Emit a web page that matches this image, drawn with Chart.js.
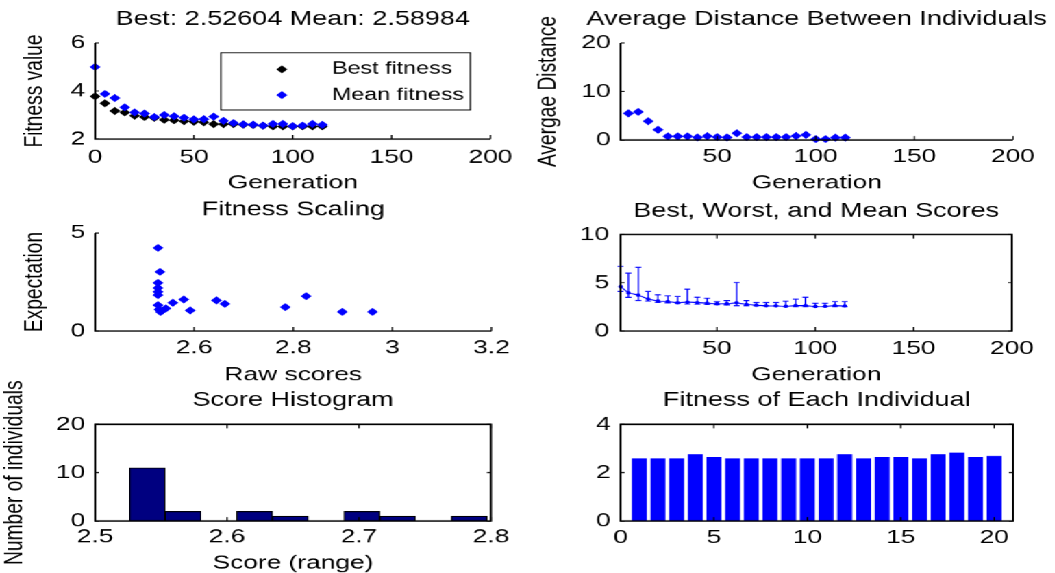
<!DOCTYPE html>
<html>
<head>
<meta charset="utf-8">
<title>Genetic algorithm plots</title>
<script src="https://cdn.jsdelivr.net/npm/chart.js@4.4.1/dist/chart.umd.min.js"></script>
<style>
  html, body { margin:0; padding:0; background:#fff; width:1055px; height:573px; overflow:hidden; }
  #stage { position:absolute; left:0; top:0; width:770px; height:573px; transform:scaleX(1.37); transform-origin:0 0; }
  #stage canvas { position:absolute; left:0; top:0; width:770px; height:573px; }
</style>
</head>
<body>
<div id="stage">
  <canvas id="cFitness" width="770" height="573"></canvas>
  <canvas id="cDistance" width="770" height="573"></canvas>
  <canvas id="cScaling" width="770" height="573"></canvas>
  <canvas id="cRange" width="770" height="573"></canvas>
  <canvas id="cHist" width="770" height="573"></canvas>
  <canvas id="cIndiv" width="770" height="573"></canvas>
</div>
<script>
// ---------------- data ----------------
const generations = [0,5,10,15,20,25,30,35,40,45,50,55,60,65,70,75,80,85,90,95,100,105,110,115];
const bestFitness = [3.78,3.49,3.17,3.11,2.97,2.92,2.88,2.80,2.78,2.74,2.72,2.70,2.62,2.62,2.62,2.60,2.58,2.55,2.526,2.526,2.526,2.526,2.526,2.526];
const meanFitness = [5.00,3.88,3.71,3.32,3.11,3.06,2.92,3.00,2.95,2.89,2.82,2.83,2.93,2.76,2.67,2.61,2.60,2.56,2.63,2.63,2.54,2.56,2.63,2.59];

const distanceGenerations = [5,10,15,20,25,30,35,40,45,50,55,60,65,70,75,80,85,90,95,100,105,110,115];
const avgDistance = [5.5,5.8,3.9,2.1,0.75,0.75,0.75,0.55,0.8,0.6,0.55,1.4,0.6,0.6,0.6,0.6,0.6,0.85,1.05,0.2,0.2,0.5,0.5];

const rawScores   = [2.527,2.531,2.527,2.527,2.527,2.527,2.527,2.529,2.536,2.543,2.532,2.557,2.579,2.592,2.645,2.662,2.784,2.826,2.899,2.960];
const expectation = [4.24,3.02,2.46,2.20,2.00,1.83,1.32,1.10,1.05,1.15,0.98,1.44,1.61,1.05,1.56,1.39,1.22,1.78,0.98,0.98];

const rangeGenerations = [1,5,10,15,20,25,30,35,40,45,50,55,60,65,70,75,80,85,90,95,100,105,110,115];
const rangeBest  = [4.10,3.49,3.17,3.11,2.97,2.92,2.88,2.80,2.78,2.74,2.72,2.70,2.62,2.62,2.62,2.60,2.58,2.55,2.526,2.526,2.526,2.526,2.526,2.526];
const rangeMean  = [4.60,3.95,3.71,3.32,3.11,3.06,2.92,3.00,2.95,2.89,2.82,2.83,2.93,2.76,2.67,2.61,2.60,2.56,2.63,2.63,2.54,2.56,2.63,2.59];
const rangeWorst = [6.70,6.00,6.60,4.10,3.75,3.65,3.57,4.34,3.50,3.40,3.05,3.16,5.03,3.16,2.95,2.95,2.95,3.10,3.30,3.50,2.88,2.88,3.05,3.05];

const histBinCenters = [2.5396,2.5667,2.5938,2.6209,2.6480,2.6751,2.7022,2.7293,2.7564,2.7835];
const histCounts     = [11,2,0,2,1,0,2,1,0,1];

const individuals = [1,2,3,4,5,6,7,8,9,10,11,12,13,14,15,16,17,18,19,20];
const individualFitness = [2.59,2.59,2.59,2.76,2.65,2.59,2.59,2.59,2.59,2.59,2.59,2.76,2.59,2.65,2.65,2.59,2.76,2.83,2.65,2.69];

// tick labels
const genTicks      = [0,50,100,150,200];
const genTicksNoZero= [50,100,150,200];
const fitnessTicks  = [2,4,6];
const distanceTicks = [0,10,20];
const scalingXTicks = [2.6,2.8,3,3.2];
const scalingYTicks = [0,5];
const rangeYTicks   = [0,5,10];
const histXTicks    = [2.5,2.6,2.7,2.8];
const histYTicks    = [0,10,20];
const indivXTicks   = [0,5,10,15,20];
const indivYTicks   = [0,2,4];

// ---------------- layout helpers ----------------
const S = 1.37, W = 770, H = 573;
const FAM = "'Liberation Sans', Arial, Helvetica, sans-serif";
const FS = 19.2, FST = 19.7, LHF = 1.2;
const lh = FS * LHF, lhT = FST * LHF;
const BLUE = '#0000ff';
const fmt = v => String(Math.round(v * 10000) / 10000);

const matlabAxes = {
  id: 'matlabAxes',
  afterDatasetsDraw(chart, args, o) {
    const {ctx, chartArea: a} = chart;
    const xs = chart.scales.x, ys = chart.scales.y;
    ctx.save();
    ctx.strokeStyle = '#000';
    ctx.lineWidth = o.lineWidth;
    ctx.beginPath();
    if (o.box) {
      ctx.rect(a.left, a.top, a.right - a.left, a.bottom - a.top);
    } else {
      ctx.moveTo(a.left, a.top);
      ctx.lineTo(a.left, a.bottom);
      ctx.lineTo(a.right, a.bottom);
    }
    ctx.stroke();
    ctx.lineWidth = 1;
    ctx.beginPath();
    xs.ticks.forEach(t => {
      const p = xs.getPixelForValue(t.value);
      ctx.moveTo(p, a.bottom); ctx.lineTo(p, a.bottom - o.len);
      if (o.box) { ctx.moveTo(p, a.top); ctx.lineTo(p, a.top + o.len); }
    });
    ys.ticks.forEach(t => {
      const p = ys.getPixelForValue(t.value);
      ctx.moveTo(a.left, p); ctx.lineTo(a.left + o.len / S, p);
      if (o.box) { ctx.moveTo(a.right, p); ctx.lineTo(a.right - o.len / S, p); }
    });
    ctx.stroke();
    ctx.restore();
  }
};

function diamond(ctx, x, y, r) {
  ctx.beginPath();
  ctx.moveTo(x - r, y); ctx.lineTo(x, y - r); ctx.lineTo(x + r, y); ctx.lineTo(x, y + r);
  ctx.closePath();
  ctx.fill(); ctx.stroke();
}

const boxLegend = {
  id: 'boxLegend',
  afterDraw(chart, args, o) {
    if (!o || !o.display) return;
    const {ctx, chartArea: a} = chart;
    const x0 = a.right - o.right - o.width, y0 = a.top + o.top;
    ctx.save();
    ctx.fillStyle = '#fff';
    ctx.fillRect(x0, y0, o.width, o.height);
    ctx.strokeStyle = '#000'; ctx.lineWidth = 1;
    ctx.strokeRect(x0, y0, o.width, o.height);
    ctx.font = o.fontSize + 'px ' + FAM;
    ctx.textBaseline = 'middle'; ctx.textAlign = 'left';
    chart.data.datasets.forEach((ds, i) => {
      const cy = y0 + o.rows[i];
      ctx.fillStyle = ds.pointBackgroundColor; ctx.strokeStyle = ds.pointBorderColor; ctx.lineWidth = 1;
      diamond(ctx, x0 + o.markerX, cy, ds.pointRadius);
      ctx.fillStyle = '#000';
      ctx.fillText(ds.label, x0 + o.textX, cy);
    });
    ctx.restore();
  }
};

function makeOptions(g) {
  const aL = g.area.l / S, aR = g.area.r / S;
  const side = Math.min(aL, W - aR);
  const pl = aL - side, pr = W - aR - side;
  const Hx = H - g.area.b;
  const tickFont = {family: FAM, size: FS, lineHeight: LHF, weight: 'normal'};
  const titleFont = {family: FAM, size: FST, lineHeight: LHF, weight: 'normal'};
  return {
    responsive: false, maintainAspectRatio: false, animation: false, devicePixelRatio: S,
    events: [],
    layout: {autoPadding: false, padding: {left: pl, right: pr, top: 0, bottom: 0}},
    scales: {
      x: {
        type: 'linear', position: 'bottom', min: g.xMin, max: g.xMax, offset: false,
        afterBuildTicks: s => { s.ticks = g.xTicks.map(v => ({value: v})); },
        afterFit: s => { s.height = Hx; },
        grid: {display: false, drawTicks: false}, border: {display: false},
        ticks: {autoSkip: false, maxRotation: 0, minRotation: 0, color: '#000', font: tickFont,
                padding: g.xTickY - g.area.b - lh / 2, callback: v => fmt(v)},
        title: g.xLabel ? {display: true, text: g.xLabel, color: '#000', font: tickFont,
                padding: {top: 0, bottom: H - g.xLabelY - lh / 2}} : {display: false}
      },
      y: {
        type: 'linear', position: 'left', min: g.yMin, max: g.yMax,
        afterBuildTicks: s => { s.ticks = g.yTicks.map(v => ({value: v})); },
        afterFit: s => { s.width = side; },
        grid: {display: false, drawTicks: false}, border: {display: false},
        ticks: {autoSkip: false, color: '#000', font: tickFont,
                padding: (g.area.l - g.yTickRight) / S, callback: v => fmt(v)},
        title: g.yLabel ? {display: true, text: g.yLabel, color: '#000', font: tickFont,
                padding: {top: g.yLabelX / S - pl - lh / 2, bottom: 0}} : {display: false}
      },
      yPad: {
        type: 'linear', position: 'right', display: true,
        afterFit: s => { s.width = side; },
        grid: {display: false, drawTicks: false}, border: {display: false},
        ticks: {display: false}, title: {display: false}
      }
    },
    plugins: {
      title: {display: true, text: g.title, color: '#000', font: titleFont,
              padding: {top: g.titleY - lhT / 2, bottom: g.area.t - g.titleY - lhT / 2}},
      legend: {display: false}, tooltip: {enabled: false},
      matlabAxes: {box: !!g.box, lineWidth: 1.5, len: 4},
      boxLegend: g.legend || {display: false}
    }
  };
}

const diamondPts = (color) => ({
  showLine: false, pointStyle: 'rectRot', pointRadius: 3.3,
  pointBackgroundColor: color, pointBorderColor: color, pointBorderWidth: 1,
  backgroundColor: color, borderColor: color, clip: false, xAxisID: 'x', yAxisID: 'y'
});

// ---------------- 1. Best / mean fitness ----------------
new Chart(document.getElementById('cFitness'), {
  type: 'scatter',
  data: { datasets: [
    Object.assign({label: 'Best fitness', order: 2,
      data: generations.map((g, i) => ({x: g, y: bestFitness[i]}))}, diamondPts('#000000')),
    Object.assign({label: 'Mean fitness', order: 1,
      data: generations.map((g, i) => ({x: g, y: meanFitness[i]}))}, diamondPts(BLUE))
  ]},
  options: makeOptions({
    area: {l: 95, r: 490, t: 43, b: 139},
    title: 'Best: 2.52604 Mean: 2.58984', titleY: 19.7,
    xMin: 0, xMax: 200, xTicks: genTicks, xTickY: 157.5, xLabel: 'Generation', xLabelY: 183.3,
    yMin: 2, yMax: 6, yTicks: fitnessTicks, yTickRight: 85, yLabel: 'Fitness value', yLabelX: 35,
    legend: {display: true, right: 14.6, top: 9.7, width: 182, height: 57.3,
             markerX: 44.5, textX: 81, rows: [16.6, 42.3], fontSize: 17}
  }),
  plugins: [matlabAxes, boxLegend]
});

// ---------------- 2. Average distance ----------------
new Chart(document.getElementById('cDistance'), {
  type: 'scatter',
  data: { datasets: [
    Object.assign({label: 'Average distance',
      data: distanceGenerations.map((g, i) => ({x: g, y: avgDistance[i]}))}, diamondPts(BLUE))
  ]},
  options: makeOptions({
    area: {l: 620, r: 1012, t: 43, b: 140},
    title: 'Average Distance Between Individuals', titleY: 19.7,
    xMin: 1, xMax: 200, xTicks: genTicksNoZero, xTickY: 157, xLabel: 'Generation', xLabelY: 183.3,
    yMin: 0, yMax: 20, yTicks: distanceTicks, yTickRight: 610, yLabel: 'Avergae Distance', yLabelX: 547.5
  }),
  plugins: [matlabAxes]
});

// ---------------- 3. Fitness scaling ----------------
new Chart(document.getElementById('cScaling'), {
  type: 'scatter',
  data: { datasets: [
    Object.assign({label: 'Expectation',
      data: rawScores.map((s, i) => ({x: s, y: expectation[i]}))}, diamondPts(BLUE))
  ]},
  options: makeOptions({
    area: {l: 95, r: 491, t: 233, b: 331},
    title: 'Fitness Scaling', titleY: 209.8,
    xMin: 2.4, xMax: 3.2, xTicks: scalingXTicks, xTickY: 348.3, xLabel: 'Raw scores', xLabelY: 375,
    yMin: 0, yMax: 5, yTicks: scalingYTicks, yTickRight: 85, yLabel: 'Expectation', yLabelX: 35
  }),
  plugins: [matlabAxes]
});

// ---------------- 4. Best, worst, mean scores ----------------
const rangeSegments = [];
rangeGenerations.forEach((g, i) => {
  rangeSegments.push({x: g, y: rangeBest[i]}, {x: g, y: rangeWorst[i]}, {x: g, y: null});
});
new Chart(document.getElementById('cRange'), {
  type: 'line',
  data: { datasets: [
    {label: 'Range', data: rangeSegments, borderColor: BLUE, borderWidth: 1, spanGaps: false,
     pointStyle: 'line', pointRadius: 2.2, pointBorderColor: BLUE, pointBorderWidth: 1,
     fill: false, tension: 0, clip: false, xAxisID: 'x', yAxisID: 'y'},
    {label: 'Mean', data: rangeGenerations.map((g, i) => ({x: g, y: rangeMean[i]})),
     borderColor: BLUE, borderWidth: 1, pointRadius: 1.2, pointBackgroundColor: BLUE,
     pointBorderColor: BLUE, fill: false, tension: 0, clip: false, xAxisID: 'x', yAxisID: 'y'}
  ]},
  options: makeOptions({
    area: {l: 620, r: 1011, t: 234.5, b: 331}, box: true,
    title: 'Best, Worst, and Mean Scores', titleY: 211.3,
    xMin: 1, xMax: 200, xTicks: genTicksNoZero, xTickY: 348.7, xLabel: 'Generation', xLabelY: 375,
    yMin: 0, yMax: 10, yTicks: rangeYTicks, yTickRight: 608.5
  }),
  plugins: [matlabAxes]
});

// ---------------- 5. Score histogram ----------------
new Chart(document.getElementById('cHist'), {
  type: 'bar',
  data: { datasets: [
    {label: 'Number of individuals', data: histBinCenters.map((c, i) => ({x: c, y: histCounts[i]})),
     backgroundColor: '#000080', borderColor: '#000000', borderWidth: 1, borderSkipped: false,
     barPercentage: 1, categoryPercentage: 1, xAxisID: 'x', yAxisID: 'y'}
  ]},
  options: makeOptions({
    area: {l: 95, r: 490.5, t: 424.3, b: 521}, box: true,
    title: 'Score Histogram', titleY: 400.5,
    xMin: 2.5, xMax: 2.8, xTicks: histXTicks, xTickY: 536.7, xLabel: 'Score (range)', xLabelY: 563,
    yMin: 0, yMax: 20, yTicks: histYTicks, yTickRight: 85, yLabel: 'Number of individuals', yLabelX: 15
  }),
  plugins: [matlabAxes]
});

// ---------------- 6. Fitness of each individual ----------------
new Chart(document.getElementById('cIndiv'), {
  type: 'bar',
  data: { datasets: [
    {label: 'Fitness', data: individuals.map((n, i) => ({x: n, y: individualFitness[i]})),
     backgroundColor: BLUE, borderWidth: 0, barPercentage: 0.8, categoryPercentage: 1,
     xAxisID: 'x', yAxisID: 'y'}
  ]},
  options: makeOptions({
    area: {l: 620, r: 1012, t: 424.3, b: 521}, box: true,
    title: 'Fitness of Each Individual', titleY: 400.5,
    xMin: 0, xMax: 21, xTicks: indivXTicks, xTickY: 538,
    yMin: 0, yMax: 4, yTicks: indivYTicks, yTickRight: 610
  }),
  plugins: [matlabAxes]
});
</script>
</body>
</html>
